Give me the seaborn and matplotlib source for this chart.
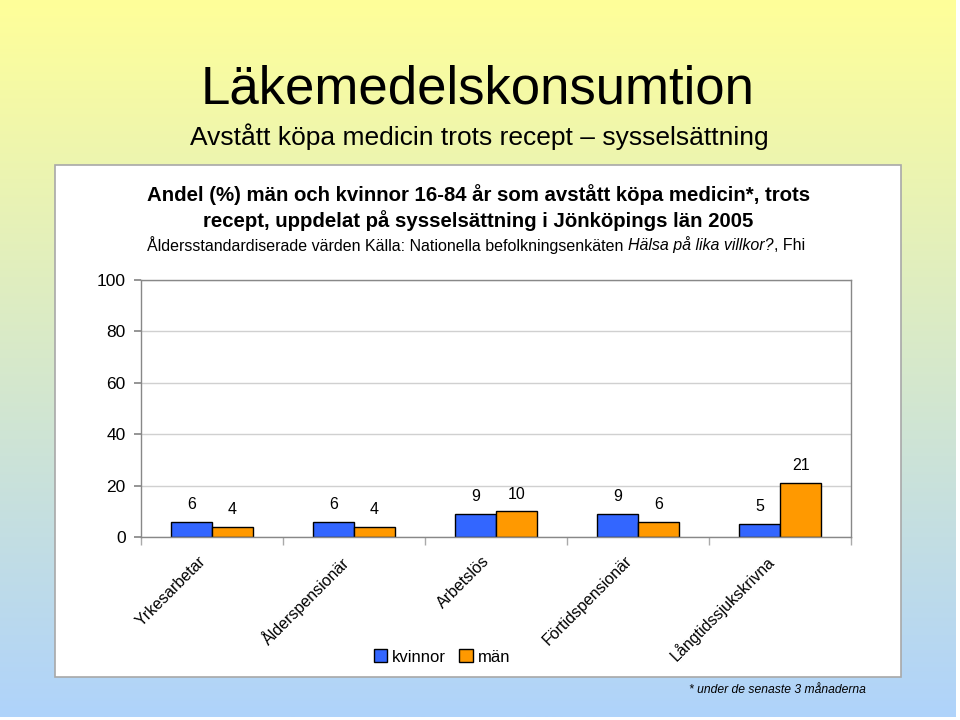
import numpy as np
import pandas as pd
import seaborn as sns
import matplotlib.pyplot as plt
import matplotlib.transforms as mtransforms
from matplotlib.patches import Rectangle
from matplotlib.colors import to_rgb

# +----------- Data -----------
kategorier = ["Yrkesarbetar", "Ålderspensionär", "Arbetslös",
              "Förtidspensionär", "Långtidssjukskrivna"]
kvinnor = [6, 6, 9, 9, 5]
man = [4, 4, 10, 6, 21]
serier = ["kvinnor", "män"]
y_ticks = [0, 20, 40, 60, 80, 100]

df = pd.DataFrame({
    "kategori": kategorier * 2,
    "grupp": [serier[0]] * len(kategorier) + [serier[1]] * len(kategorier),
    "andel": kvinnor + man,
})

sns.set_theme(style="white")
plt.rcParams["font.family"] = ["Liberation Sans", "DejaVu Sans"]
plt.rcParams["text.color"] = "black"
plt.rcParams["xtick.color"] = "black"
plt.rcParams["ytick.color"] = "black"
plt.rcParams["axes.labelcolor"] = "black"

fig = plt.figure(figsize=(9.6, 7.2), dpi=100)

# +----------- Bakgrund (gradient gul -> blå) -----------
bg = fig.add_axes([0, 0.004, 0.995, 0.996], zorder=-10)
top_c = np.array(to_rgb("#FFFF99"))
bot_c = np.array(to_rgb("#AFD3FB"))
t = np.linspace(0, 1, 256)[:, None]
grad = top_c[None, :] * (1 - t) + bot_c[None, :] * t
bg.imshow(grad[:, None, :], aspect="auto", extent=[0, 1, 0, 1])
bg.axis("off")

# vit panel
fig.patches.append(Rectangle((55 / 960, 1 - 677 / 720), (901 - 55) / 960, (677 - 165) / 720,
                             transform=fig.transFigure, facecolor="white",
                             edgecolor="#A8A8A8", linewidth=1.2, zorder=-5))

# +----------- Diagram -----------
ax = fig.add_axes([141 / 960, 1 - 537 / 720, (851 - 141) / 960, (537 - 280) / 720])
sns.barplot(data=df, x="kategori", y="andel", hue="grupp", order=kategorier,
            hue_order=serier, palette=["#3366FF", "#FF9900"], width=0.58,
            edgecolor="black", linewidth=1, saturation=1, ax=ax)

for c in ax.containers:
    ax.bar_label(c, fmt="%g", padding=7, fontsize=11.5)

ax.set_ylim(0, 100)
ax.set_yticks(y_ticks)
ax.set_xlim(-0.5, len(kategorier) - 0.5)
ax.yaxis.grid(True, color="#D0D0D0", linewidth=1)
ax.set_axisbelow(True)
for s in ax.spines.values():
    s.set_color("#888888")
    s.set_linewidth(1)
ax.set_xlabel("")
ax.set_ylabel("")
ax.tick_params(axis="y", labelsize=12.5, length=5, color="#888888", left=True, pad=6)
ax.set_xticks(np.arange(-0.5, len(kategorier)), minor=True)
ax.tick_params(axis="x", which="minor", length=6, color="#AAAAAA", bottom=True)
ax.tick_params(axis="x", which="major", length=0, pad=14)
ax.set_xticklabels(kategorier, rotation=45, ha="right", rotation_mode="anchor", fontsize=11.5)
skift = mtransforms.ScaledTranslation(-14 / 100, 3 / 100, fig.dpi_scale_trans)
for lbl in ax.get_xticklabels():
    lbl.set_transform(lbl.get_transform() + skift)

ax.legend_.remove()
handles = [Rectangle((0, 0), 1, 1, facecolor=col, edgecolor="black", linewidth=1)
           for col in ["#3366FF", "#FF9900"]]
fig.legend(handles, serier, loc="center", bbox_to_anchor=(442 / 960, 1 - 657 / 720),
           ncol=2, frameon=False, fontsize=12, handlelength=0.8, handleheight=0.8,
           handletextpad=0.3, columnspacing=0.8)

# +----------- Texter -----------
fig.text(478 / 960, 1 - 90 / 720, "Läkemedelskonsumtion", ha="center", va="center", fontsize=38)
fig.text(479 / 960, 1 - 137 / 720, "Avstått köpa medicin trots recept – sysselsättning",
         ha="center", va="center", fontsize=19)
fig.text(479 / 960, 1 - 195 / 720,
         "Andel (%) män och kvinnor 16-84 år som avstått köpa medicin*, trots",
         ha="center", va="center", fontsize=14.7, fontweight="bold")
fig.text(478 / 960, 1 - 221 / 720,
         "recept, uppdelat på sysselsättning i Jönköpings län 2005",
         ha="center", va="center", fontsize=14.7, fontweight="bold")

# rad med blandad kursiv text
delar = [("Åldersstandardiserade värden Källa: Nationella befolkningsenkäten ", "normal"),
         ("Hälsa på lika villkor?", "italic"),
         (", Fhi", "normal")]
renderer = fig.canvas.get_renderer()
texter = []
for s, st in delar:
    tx = fig.text(0, 1 - 245 / 720, s, ha="left", va="center", fontsize=11.5, fontstyle=st)
    texter.append(tx)
bredder = [tx.get_window_extent(renderer).width for tx in texter]
x0 = 476 - sum(bredder) / 2
for tx, b in zip(texter, bredder):
    tx.set_x(x0 / 960)
    x0 += b

fig.text(866 / 960, 1 - 690 / 720, "* under de senaste 3 månaderna", ha="right", va="center",
         fontsize=8.7, fontstyle="italic")

fig.savefig("out.png", dpi=100)
